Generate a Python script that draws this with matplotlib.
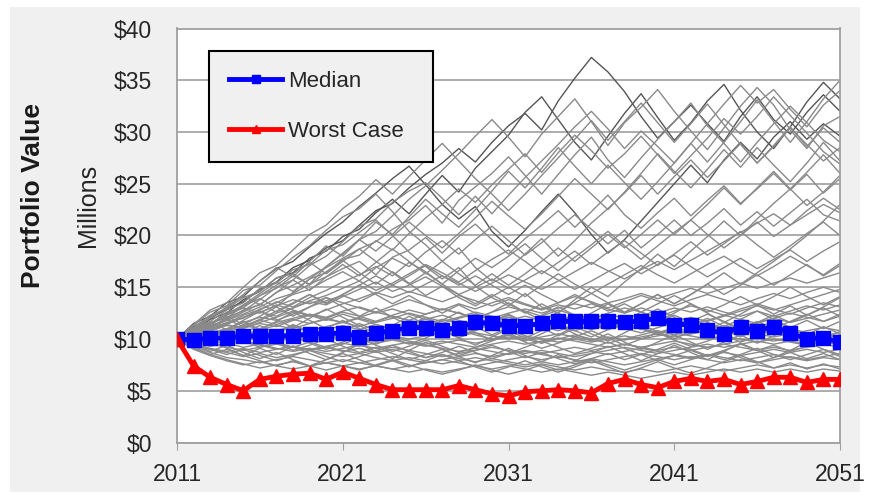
import numpy as np
import matplotlib.pyplot as plt
from matplotlib.patches import Rectangle

plt.rcParams['font.family'] = ['Liberation Sans', 'DejaVu Sans']

years = list(range(2011, 2052))

median = [10.0, 9.9, 10.1, 10.1, 10.3, 10.3, 10.3, 10.3, 10.5, 10.5,
          10.6, 10.2, 10.6, 10.8, 11.1, 11.1, 10.9, 11.1, 11.6, 11.5,
          11.3, 11.3, 11.5, 11.7, 11.7, 11.7, 11.75, 11.6, 11.75, 12.0,
          11.4, 11.4, 10.9, 10.5, 11.2, 10.8, 11.2, 10.6, 10.0, 10.1,
          9.7]

worst_case = [10.0, 7.4, 6.3, 5.6, 5.0, 6.1, 6.4, 6.6, 6.7, 6.1,
              6.8, 6.2, 5.6, 5.1, 5.1, 5.1, 5.1, 5.5, 5.1, 4.7,
              4.5, 4.9, 5.0, 5.1, 5.0, 4.8, 5.7, 6.1, 5.6, 5.3,
              5.9, 6.2, 5.9, 6.1, 5.6, 5.9, 6.3, 6.3, 5.8, 6.1,
              6.1]

# simulated portfolio paths, $M per year
high_paths = [
    [10, 11.2, 12.0, 12.9, 13.6, 14.8, 15.5, 16.9, 17.6, 18.8,
     19.5, 21.0, 22.4, 23.1, 24.6, 25.9, 27.0, 28.4, 27.1, 29.0,
     30.6, 31.8, 30.2, 33.0, 35.2, 37.2, 35.8, 33.9, 31.5, 29.4,
     31.0, 32.6, 30.8, 29.1, 31.5, 33.4, 31.2, 29.8, 31.9, 33.6, 32.0],
    [10, 10.8, 11.9, 12.5, 13.8, 14.6, 15.9, 16.4, 17.8, 18.5,
     19.9, 20.6, 22.2, 23.5, 22.1, 24.0, 25.8, 24.2, 26.5, 28.1,
     29.7, 31.9, 33.4, 31.2, 29.0, 27.3, 29.6, 31.8, 33.7, 31.4,
     29.2, 30.9, 33.0, 34.6, 32.1, 30.0, 28.4, 30.5, 32.9, 34.8, 33.2],
    [10, 11.5, 12.2, 13.5, 14.1, 15.6, 16.8, 17.5, 18.9, 20.2,
     21.3, 22.8, 24.1, 25.5, 26.7, 24.9, 23.0, 21.6, 22.8, 20.4,
     18.9, 20.5, 22.3, 24.0, 22.2, 20.1, 18.3, 19.6, 21.4, 23.2,
     25.0, 26.8, 25.1, 27.3, 29.0, 27.4, 29.5, 31.0, 29.3, 30.8, 29.6],
    [10, 10.6, 11.4, 12.6, 13.0, 14.2, 14.9, 16.1, 15.3, 17.0,
     18.2, 19.6, 20.4, 21.9, 23.5, 24.8, 26.3, 27.9, 29.6, 31.2,
     29.5, 27.6, 29.8, 31.5, 33.2, 31.0, 28.7, 30.9, 32.4, 34.1,
     32.0, 30.1, 28.3, 30.4, 32.5, 34.3, 32.6, 30.2, 28.4, 30.6, 31.5],
    [10, 10.4, 11.1, 11.9, 12.8, 13.3, 14.5, 15.2, 16.0, 16.9,
     17.8, 18.7, 19.4, 20.6, 21.5, 22.9, 21.2, 23.4, 24.7, 26.0,
     27.6, 25.8, 24.0, 25.9, 27.8, 29.5, 27.3, 25.6, 27.5, 29.3,
     31.0, 32.8, 30.6, 28.9, 27.1, 29.0, 30.8, 32.5, 30.9, 29.2, 28.1],
    [10, 10.9, 11.6, 12.0, 13.2, 13.9, 13.1, 14.5, 15.8, 16.4,
     17.7, 18.1, 19.5, 18.6, 20.2, 21.7, 23.0, 24.5, 23.2, 24.9,
     26.4, 27.9, 26.1, 28.0, 29.7, 28.2, 26.5, 27.9, 29.6, 27.8,
     26.0, 27.7, 29.4, 31.3, 29.8, 31.5, 33.4, 31.6, 29.9, 28.1, 26.9],
    [10, 11.3, 12.6, 13.2, 14.7, 15.2, 16.6, 17.9, 19.0, 20.5,
     21.8, 22.6, 24.0, 22.3, 20.4, 19.1, 17.5, 18.8, 16.9, 15.6,
     16.8, 18.2, 19.7, 18.0, 19.5, 21.2, 22.6, 24.1, 25.8, 24.0,
     25.7, 27.3, 25.6, 27.2, 28.9, 27.0, 28.6, 30.4, 28.8, 27.2, 28.5],
    [10, 10.7, 11.0, 12.1, 12.7, 13.8, 15.0, 15.7, 17.1, 18.0,
     19.4, 20.9, 21.6, 23.2, 24.3, 25.1, 23.6, 22.0, 23.8, 22.1,
     23.9, 25.6, 27.2, 28.8, 30.5, 32.0, 30.3, 28.4, 30.1, 28.6,
     27.0, 28.9, 30.8, 32.7, 34.5, 32.8, 34.1, 32.2, 30.5, 32.6, 34.0],
    [10, 11.4, 12.8, 13.5, 15.0, 16.4, 17.1, 18.6, 20.1, 21.0,
     22.6, 23.8, 25.4, 24.0, 25.7, 27.3, 28.9, 27.2, 25.5, 24.0,
     22.4, 24.0, 25.8, 27.5, 29.3, 31.1, 29.2, 31.0, 32.8, 30.9,
     29.0, 30.8, 32.7, 30.7, 28.8, 27.0, 28.7, 30.5, 28.6, 30.4, 29.0],
    [10, 10.9, 12.0, 13.1, 14.3, 15.6, 16.9, 16.0, 17.5, 19.0,
     18.0, 19.6, 21.3, 20.1, 21.8, 23.5, 22.1, 20.8, 22.5, 24.3,
     26.2, 24.6, 26.5, 28.5, 26.7, 25.0, 26.8, 25.1, 23.5, 25.2,
     27.0, 28.9, 27.1, 29.0, 31.0, 33.1, 31.0, 29.0, 31.0, 33.2, 35.0],
    [10, 10.5, 11.5, 12.4, 13.3, 14.4, 15.5, 14.6, 15.8, 17.0,
     18.3, 19.6, 18.5, 19.9, 21.3, 20.0, 18.8, 20.2, 21.7, 23.3,
     21.9, 20.6, 22.1, 23.8, 25.5, 24.0, 22.5, 24.2, 26.0, 27.9,
     26.2, 24.6, 26.4, 28.3, 26.6, 28.5, 26.8, 25.2, 27.0, 29.0, 27.2],
]

mid_paths = [
    [10, 10.5, 11.3, 11.8, 12.4, 13.1, 13.9, 14.4, 15.3, 16.0,
     16.8, 17.5, 16.2, 17.9, 18.6, 19.8, 18.3, 19.9, 21.1, 19.6,
     18.2, 19.7, 21.0, 22.4, 20.8, 22.3, 23.9, 22.0, 20.7, 22.2,
     23.6, 21.9, 23.4, 24.8, 23.1, 24.5, 26.0, 24.4, 25.9, 24.1, 25.5],
    [10, 11.0, 11.7, 12.8, 13.5, 14.9, 15.4, 16.7, 17.2, 18.6,
     19.1, 20.3, 21.5, 20.0, 18.4, 17.0, 15.8, 16.9, 15.1, 14.0,
     13.2, 14.4, 13.1, 12.5, 13.8, 15.0, 14.1, 15.5, 16.8, 18.2,
     17.0, 18.5, 19.9, 21.4, 20.0, 21.6, 23.1, 24.5, 22.9, 24.2, 25.8],
    [10, 10.3, 10.9, 11.6, 12.0, 12.9, 13.5, 14.3, 14.8, 15.7,
     16.5, 15.6, 16.9, 17.8, 17.0, 18.4, 19.5, 18.2, 19.6, 20.9,
     19.5, 18.1, 19.3, 20.7, 22.0, 20.6, 19.2, 20.5, 18.8, 20.1,
     21.5, 20.0, 21.2, 22.6, 21.0, 22.3, 20.9, 22.2, 23.5, 22.0, 21.4],
    [10, 10.6, 11.2, 11.5, 12.3, 12.8, 13.6, 13.1, 14.0, 14.7,
     15.5, 16.2, 17.0, 16.1, 17.4, 16.5, 15.3, 16.6, 17.8, 16.9,
     18.0, 19.2, 17.8, 16.6, 17.9, 19.1, 20.4, 19.0, 17.7, 19.0,
     20.3, 21.5, 20.1, 18.8, 20.0, 21.3, 19.9, 21.0, 22.4, 23.6, 22.5],
    [10, 10.2, 10.8, 11.3, 11.1, 11.8, 12.5, 13.0, 13.7, 14.2,
     14.9, 15.6, 14.7, 15.4, 16.3, 17.2, 16.4, 15.5, 16.6, 17.7,
     18.6, 17.5, 16.3, 17.4, 18.5, 17.2, 18.4, 19.5, 18.3, 17.1,
     18.2, 19.4, 18.1, 19.2, 20.4, 19.1, 17.9, 19.0, 20.2, 21.3, 20.0],
    [10, 10.4, 10.7, 11.4, 12.1, 12.6, 12.2, 13.0, 13.6, 13.3,
     14.1, 14.8, 15.5, 14.6, 15.2, 16.0, 15.1, 14.3, 15.0, 15.8,
     14.9, 15.7, 16.6, 15.7, 14.8, 15.6, 16.5, 17.3, 16.3, 17.2,
     18.1, 17.0, 16.0, 16.9, 17.8, 16.8, 17.7, 18.6, 17.5, 18.5, 19.4],
    [10, 11.1, 12.3, 12.9, 14.0, 14.6, 15.9, 16.3, 15.2, 16.5,
     17.6, 16.4, 15.3, 16.5, 15.4, 14.2, 15.1, 14.0, 13.2, 14.1,
     15.0, 14.1, 15.2, 16.3, 15.3, 14.4, 15.3, 16.2, 17.1, 16.2,
     15.4, 16.3, 17.2, 18.0, 17.0, 16.1, 17.0, 18.0, 17.1, 16.2, 17.3],
    [10, 10.3, 10.6, 11.0, 11.6, 12.1, 11.8, 12.4, 13.1, 13.7,
     14.2, 13.6, 14.4, 15.2, 14.5, 15.3, 16.1, 15.4, 14.6, 15.4,
     16.2, 15.5, 14.8, 15.6, 16.5, 17.4, 16.6, 15.8, 16.7, 17.5,
     16.7, 17.6, 18.5, 19.4, 20.3, 21.2, 22.1, 21.0, 22.0, 23.0, 22.2],
    [10, 11.0, 12.1, 13.0, 14.2, 13.3, 14.5, 15.7, 14.7, 16.0,
     17.2, 16.1, 17.4, 18.7, 17.5, 16.3, 17.5, 16.3, 15.2, 16.3,
     15.2, 16.3, 17.5, 18.8, 17.5, 18.8, 20.1, 18.8, 20.1, 21.5,
     20.1, 21.5, 23.0, 24.6, 23.0, 24.6, 26.2, 24.5, 26.1, 27.8, 26.0],
    [10, 10.6, 11.4, 12.3, 13.2, 14.2, 15.2, 16.3, 17.4, 16.3,
     17.5, 18.7, 17.5, 16.4, 15.3, 16.4, 15.3, 14.3, 13.4, 14.3,
     13.4, 12.5, 13.4, 12.5, 11.7, 12.5, 13.4, 12.5, 13.4, 14.3,
     13.4, 14.3, 15.3, 16.4, 15.3, 16.4, 17.5, 18.7, 20.0, 21.4, 23.0],
    [10, 10.5, 11.2, 11.9, 11.2, 11.9, 12.7, 13.5, 14.3, 13.5,
     14.3, 15.2, 16.1, 15.2, 16.1, 17.1, 16.1, 15.2, 16.1, 15.2,
     14.3, 15.2, 14.3, 13.5, 14.3, 13.5, 12.7, 13.4, 12.6, 13.4,
     14.2, 13.4, 12.6, 13.3, 14.1, 13.3, 14.1, 15.0, 14.1, 13.3, 14.1],
    [10, 10.8, 10.1, 10.9, 11.7, 10.9, 11.7, 12.6, 11.8, 11.0,
     11.8, 11.0, 10.3, 11.0, 11.8, 11.0, 11.8, 12.6, 11.8, 12.6,
     13.5, 12.6, 11.8, 12.6, 13.5, 14.4, 13.5, 12.6, 13.4, 14.3,
     13.4, 14.3, 15.3, 14.3, 15.2, 16.2, 15.2, 16.2, 17.2, 16.1, 17.1],
]

core_paths = [
    [10, 10.1, 10.5, 10.9, 11.3, 11.0, 11.6, 12.0, 12.4, 12.1,
     12.7, 13.1, 12.6, 13.2, 13.8, 13.3, 12.8, 13.4, 12.9, 13.5,
     14.0, 13.4, 12.9, 13.5, 14.1, 13.6, 13.0, 13.6, 14.2, 13.7,
     13.2, 13.8, 14.3, 13.8, 13.3, 13.9, 14.4, 13.9, 14.5, 15.0, 14.5],
    [10, 10.4, 10.2, 10.7, 11.1, 11.5, 11.2, 11.8, 12.3, 12.0,
     11.6, 12.1, 12.6, 12.2, 11.8, 12.4, 12.9, 12.5, 12.0, 12.6,
     13.1, 12.7, 12.2, 12.8, 12.3, 11.9, 12.5, 13.0, 12.6, 12.1,
     12.7, 13.2, 12.8, 12.3, 12.9, 13.4, 12.9, 12.4, 13.0, 13.5, 13.1],
    [10, 9.8, 10.3, 10.6, 10.4, 10.9, 11.3, 11.0, 11.5, 11.9,
     11.6, 11.2, 11.7, 12.2, 11.8, 11.4, 11.9, 11.5, 11.1, 11.6,
     12.1, 11.7, 11.3, 11.8, 11.4, 11.9, 12.4, 12.0, 11.6, 12.1,
     11.7, 11.3, 11.8, 12.3, 11.9, 11.5, 12.0, 12.5, 12.1, 11.7, 12.2],
    [10, 10.6, 11.0, 11.5, 12.1, 12.6, 13.2, 13.8, 13.4, 14.0,
     13.5, 13.0, 12.5, 12.9, 12.4, 11.9, 12.3, 11.8, 11.4, 11.9,
     11.5, 11.1, 11.6, 11.2, 10.8, 11.3, 10.9, 11.4, 11.0, 10.6,
     11.1, 10.7, 11.2, 10.8, 10.4, 10.9, 10.5, 11.0, 10.6, 10.2, 10.7],
    [10, 9.7, 10.0, 10.4, 10.1, 10.5, 10.2, 10.7, 10.4, 10.9,
     11.3, 10.9, 11.4, 11.0, 11.5, 11.9, 11.5, 12.0, 12.4, 12.0,
     12.5, 12.9, 12.5, 13.0, 13.4, 13.0, 13.5, 13.9, 14.4, 13.9,
     14.4, 14.9, 14.4, 14.9, 15.4, 14.9, 15.4, 15.9, 15.4, 15.9, 16.4],
    [10, 10.8, 11.5, 12.3, 13.0, 12.5, 13.3, 12.8, 12.3, 11.8,
     12.4, 11.9, 11.4, 10.9, 11.4, 10.9, 10.5, 10.9, 10.4, 10.0,
     10.4, 10.0, 9.6, 10.0, 10.4, 10.0, 9.6, 10.0, 10.4, 10.8,
     10.4, 10.8, 11.2, 10.8, 11.2, 11.6, 12.0, 11.6, 12.0, 12.4, 12.8],
    [10, 10.3, 10.7, 10.4, 10.0, 10.4, 10.8, 11.2, 10.8, 11.2,
     11.6, 12.0, 11.6, 12.0, 12.5, 12.1, 11.7, 12.1, 12.6, 12.2,
     11.8, 12.2, 11.8, 11.4, 11.8, 11.4, 11.0, 11.4, 11.0, 10.6,
     10.9, 10.5, 10.9, 11.3, 10.9, 10.5, 10.9, 10.5, 10.1, 10.5, 10.1],
    [10, 10.5, 10.9, 11.4, 11.0, 11.6, 12.1, 12.7, 12.2, 12.8,
     13.4, 13.9, 14.5, 14.0, 14.6, 14.1, 13.6, 14.2, 13.7, 13.2,
     13.8, 13.3, 12.8, 13.3, 12.9, 13.4, 12.9, 12.5, 13.0, 12.5,
     13.0, 12.6, 13.1, 12.6, 12.2, 12.7, 12.2, 12.7, 13.2, 12.8, 13.3],
    [10, 9.9, 10.4, 10.8, 11.3, 11.8, 11.4, 11.9, 11.5, 12.0,
     12.6, 12.2, 11.7, 12.3, 12.8, 12.4, 12.9, 12.5, 12.0, 11.6,
     12.1, 11.7, 11.2, 10.8, 11.3, 10.9, 11.4, 11.0, 10.6, 11.1,
     11.6, 12.1, 11.7, 12.2, 12.7, 13.2, 12.8, 13.3, 13.8, 14.3, 14.8],
    [10, 10.9, 10.2, 11.0, 10.4, 9.7, 10.5, 11.3, 10.6, 9.9,
     10.7, 11.5, 10.8, 10.0, 10.8, 11.6, 10.9, 10.1, 9.4, 10.2,
     11.0, 10.3, 9.6, 10.4, 11.2, 10.5, 9.8, 10.6, 11.4, 10.7,
     10.0, 10.8, 11.6, 10.9, 10.2, 11.0, 11.8, 11.1, 10.4, 11.2, 10.5],
    [10, 10.7, 11.6, 10.9, 11.8, 12.7, 11.9, 11.1, 12.0, 12.9,
     12.1, 11.3, 10.5, 11.3, 12.2, 11.4, 10.6, 11.4, 10.6, 9.9,
     10.6, 9.8, 10.5, 11.3, 10.5, 9.8, 10.5, 9.7, 9.0, 9.7,
     10.4, 9.7, 9.0, 9.7, 10.4, 9.6, 10.3, 11.1, 10.3, 9.6, 10.3],
    [10, 10.6, 11.4, 12.2, 11.4, 12.2, 13.1, 12.2, 13.1, 14.0,
     13.1, 12.2, 13.0, 12.1, 11.3, 12.1, 11.3, 10.5, 11.2, 10.4,
     11.1, 11.9, 11.1, 10.3, 11.0, 11.8, 11.0, 11.8, 12.6, 11.7,
     12.5, 13.4, 12.5, 11.6, 12.4, 13.3, 12.4, 13.2, 12.3, 13.1, 14.0],
    [10, 10.4, 11.1, 11.8, 12.6, 13.4, 12.6, 13.4, 14.3, 13.4,
     14.3, 15.2, 14.3, 13.4, 14.2, 13.3, 12.5, 13.3, 12.5, 11.7,
     12.4, 11.6, 12.3, 13.1, 12.3, 11.5, 12.2, 11.4, 12.1, 12.9,
     12.1, 11.3, 12.0, 11.2, 11.9, 12.7, 11.9, 11.1, 11.8, 11.0, 11.7],
    [10, 9.8, 10.5, 9.9, 10.6, 11.3, 10.6, 11.4, 10.7, 10.1,
     10.8, 10.1, 9.5, 10.1, 9.5, 10.1, 10.8, 10.1, 10.8, 11.5,
     10.8, 10.1, 10.8, 11.5, 10.8, 10.2, 10.9, 11.6, 10.9, 11.6,
     12.3, 11.6, 10.9, 11.6, 10.9, 11.6, 12.3, 11.6, 12.3, 13.0, 12.2],
    [10, 10.3, 9.7, 10.3, 10.9, 10.3, 9.7, 9.2, 9.7, 9.2,
     9.7, 10.3, 9.7, 10.3, 10.9, 11.6, 10.9, 10.3, 10.9, 11.6,
     12.3, 11.6, 10.9, 11.6, 12.3, 11.6, 11.0, 11.6, 11.0, 10.4,
     11.0, 11.7, 12.4, 11.7, 11.0, 11.7, 11.0, 11.7, 12.4, 11.7, 12.4],
]

low_paths = [
    [10, 9.4, 9.0, 8.7, 8.3, 8.6, 8.2, 8.5, 8.9, 8.6,
     8.3, 8.6, 8.2, 7.9, 8.2, 7.9, 7.6, 7.9, 8.2, 7.9,
     7.6, 7.3, 7.6, 7.3, 7.0, 7.3, 7.0, 6.8, 7.1, 6.8,
     7.1, 7.4, 7.1, 6.9, 7.2, 7.5, 7.2, 7.5, 7.2, 7.5, 7.3],
    [10, 9.7, 9.3, 9.6, 9.2, 9.5, 9.1, 8.8, 9.1, 8.8,
     9.1, 9.4, 9.1, 9.4, 9.7, 9.4, 9.1, 8.8, 9.1, 8.8,
     8.5, 8.8, 8.5, 8.2, 8.5, 8.8, 8.5, 8.8, 9.1, 8.8,
     8.5, 8.2, 8.5, 8.2, 7.9, 8.2, 8.5, 8.2, 7.9, 8.2, 8.0],
    [10, 10.1, 9.8, 10.1, 9.8, 9.5, 9.8, 10.1, 9.8, 10.1,
     10.4, 10.1, 9.8, 10.1, 9.8, 9.5, 9.8, 9.5, 9.2, 9.5,
     9.8, 9.5, 9.8, 10.1, 9.8, 9.5, 9.2, 9.5, 9.2, 8.9,
     9.2, 8.9, 9.2, 9.5, 9.2, 8.9, 9.2, 8.9, 9.2, 9.5, 9.2],
    [10, 9.2, 8.5, 8.0, 7.6, 7.2, 7.5, 7.8, 7.4, 7.7,
     8.0, 7.7, 8.0, 8.3, 8.0, 7.7, 8.0, 8.3, 8.6, 8.3,
     8.6, 8.9, 8.6, 8.9, 9.2, 8.9, 9.2, 9.5, 9.2, 9.5,
     9.8, 9.5, 9.2, 9.5, 9.8, 10.1, 9.8, 10.1, 10.4, 10.1, 10.4],
    [10, 9.6, 9.9, 9.5, 9.8, 9.4, 9.0, 9.3, 8.9, 9.2,
     8.8, 9.1, 8.7, 9.0, 8.6, 8.2, 8.5, 8.1, 7.8, 8.1,
     7.8, 7.5, 7.8, 7.5, 7.8, 8.1, 7.8, 7.5, 7.8, 8.1,
     8.4, 8.1, 8.4, 8.7, 8.4, 8.7, 9.0, 8.7, 9.0, 8.7, 9.0],
    [10, 10.3, 10.0, 9.7, 10.0, 10.3, 10.6, 10.3, 10.0, 10.3,
     10.0, 9.7, 10.0, 10.3, 10.0, 10.3, 10.6, 10.3, 10.6, 10.3,
     10.0, 10.3, 10.0, 9.7, 10.0, 9.7, 10.0, 10.3, 10.0, 10.3,
     10.6, 10.3, 10.0, 10.3, 10.0, 9.7, 10.0, 9.7, 9.4, 9.7, 9.5],
    [10, 9.0, 8.4, 7.9, 7.5, 7.8, 7.4, 7.1, 7.4, 7.7,
     7.4, 7.1, 7.4, 7.1, 6.8, 7.1, 6.8, 7.1, 7.4, 7.1,
     7.4, 7.1, 6.8, 7.1, 6.8, 6.5, 6.8, 6.5, 6.2, 6.5,
     6.8, 6.5, 6.8, 7.1, 6.8, 7.1, 6.8, 7.1, 6.8, 7.1, 6.9],
    [10, 9.5, 9.1, 8.8, 9.1, 8.7, 9.0, 9.3, 9.0, 9.3,
     9.6, 9.3, 9.6, 9.9, 9.6, 9.3, 9.6, 9.9, 9.6, 9.9,
     10.2, 9.9, 10.2, 10.5, 10.2, 9.9, 10.2, 9.9, 10.2, 10.5,
     10.2, 10.5, 10.8, 10.5, 10.8, 10.5, 10.2, 10.5, 10.8, 11.1, 10.8],
    [10, 9.3, 8.7, 8.2, 8.0, 7.7, 8.0, 8.3, 8.0, 7.7,
     7.4, 7.7, 7.4, 7.1, 7.4, 7.7, 8.0, 7.7, 7.4, 7.7,
     8.0, 8.3, 8.0, 8.3, 8.0, 7.7, 8.0, 8.3, 8.6, 8.3,
     8.0, 8.3, 8.0, 7.7, 8.0, 7.7, 8.0, 8.3, 8.0, 8.3, 8.6],
    [10, 9.8, 9.5, 9.2, 8.9, 9.2, 9.5, 9.2, 8.9, 9.2,
     8.9, 8.6, 8.9, 9.2, 8.9, 8.6, 8.3, 8.6, 8.9, 9.2,
     8.9, 8.6, 8.9, 8.6, 8.3, 8.6, 8.9, 9.2, 8.9, 8.6,
     8.9, 9.2, 9.5, 9.2, 9.5, 9.8, 9.5, 9.8, 9.5, 9.8, 10.1],
    [10, 9.2, 9.9, 9.1, 8.4, 9.1, 8.5, 9.3, 8.6, 8.0,
     8.7, 9.5, 8.8, 8.1, 8.9, 9.7, 9.0, 8.3, 7.7, 8.4,
     9.1, 8.4, 7.8, 8.5, 7.9, 8.6, 9.3, 8.6, 7.9, 8.6,
     9.4, 8.7, 8.0, 8.8, 9.6, 8.9, 8.2, 8.9, 9.7, 9.0, 8.3],
    [10, 9.5, 8.8, 9.4, 8.7, 8.1, 8.7, 8.0, 7.4, 8.0,
     8.6, 8.0, 7.4, 7.9, 7.3, 7.9, 8.5, 7.9, 7.3, 6.8,
     7.3, 7.9, 7.3, 6.8, 7.3, 7.9, 7.3, 6.7, 7.2, 7.8,
     7.2, 6.7, 7.2, 7.8, 8.4, 7.8, 7.2, 7.7, 7.1, 7.6, 7.1],
    [10, 9.4, 9.9, 10.5, 9.8, 9.2, 9.7, 10.3, 9.6, 9.0,
     9.5, 10.1, 9.4, 8.8, 9.3, 9.9, 9.3, 8.7, 9.2, 9.8,
     10.4, 9.7, 9.1, 9.6, 10.2, 10.8, 10.1, 9.4, 10.0, 10.6,
     9.9, 9.3, 9.8, 10.4, 9.7, 10.3, 10.9, 10.2, 9.5, 10.1, 10.7],
    [10, 9.6, 9.0, 8.5, 9.0, 8.4, 7.9, 8.4, 8.9, 8.3,
     7.8, 8.3, 8.8, 9.4, 8.8, 8.2, 8.7, 9.3, 8.7, 8.1,
     8.6, 9.2, 9.8, 9.2, 8.6, 9.1, 9.7, 9.1, 8.5, 9.0,
     9.6, 9.0, 8.4, 8.9, 9.5, 8.9, 9.4, 8.8, 9.3, 9.9, 9.3],
    [10, 9.3, 9.8, 10.4, 9.7, 10.3, 9.6, 8.9, 9.4, 10.0,
     9.3, 8.7, 9.2, 8.6, 8.0, 8.5, 9.0, 8.4, 8.9, 9.4,
     8.8, 8.2, 8.7, 8.1, 7.6, 8.1, 8.6, 8.0, 8.5, 7.9,
     8.4, 8.9, 8.3, 8.8, 8.2, 7.7, 8.2, 8.7, 8.1, 8.6, 8.0],
    [10, 9.1, 8.5, 9.0, 8.4, 7.9, 7.4, 7.9, 7.4, 7.0,
     7.4, 7.0, 7.5, 8.0, 7.5, 7.0, 6.6, 7.0, 7.5, 7.0,
     6.6, 7.0, 7.5, 7.0, 7.5, 8.0, 7.5, 7.0, 7.5, 8.0,
     7.5, 8.0, 8.5, 8.0, 8.5, 9.1, 8.5, 8.0, 8.5, 9.0, 8.5],
]

y_ticks = [0, 5, 10, 15, 20, 25, 30, 35, 40]
x_ticks = [2011, 2021, 2031, 2041, 2051]

fig = plt.figure(figsize=(8.7, 4.99), dpi=100, facecolor='white')
fig.patches.append(Rectangle((10 / 870, 7 / 499), 850 / 870, 485 / 499,
                             transform=fig.transFigure, facecolor='#f0f0f0',
                             edgecolor='none', zorder=-1))
ax = fig.add_axes([177 / 870, 1 - 442.5 / 499, 663 / 870, 414 / 499])
ax.set_facecolor('white')

for p in high_paths[:3]:
    ax.plot(years, p, color='#555555', lw=1.0, zorder=2)
for p in high_paths[3:] + mid_paths + core_paths + low_paths:
    ax.plot(years, p, color='#8a8a8a', lw=1.0, zorder=2)

ax.plot(years, median, color='#0000ff', lw=3.5, marker='s', ms=10,
        label='Median', zorder=4)
ax.plot(years, worst_case, color='#ff0000', lw=3.5, marker='^', ms=10,
        label='Worst Case', zorder=4)

ax.set_xlim(2011, 2051)
ax.set_ylim(0, 40)
ax.set_xticks(x_ticks)
ax.set_yticks(y_ticks)
ax.set_yticklabels(['$%d' % v for v in y_ticks])
ax.yaxis.grid(True, color='#a6a6a6', lw=1.3)
ax.set_axisbelow(True)
for s in ax.spines.values():
    s.set_color('#a0a0a0')
    s.set_linewidth(1.3)
ax.tick_params(axis='x', direction='out', length=5, color='#a0a0a0',
               labelsize=16.5, labelcolor='#262626', pad=10)
ax.tick_params(axis='y', length=0, labelsize=16.5, labelcolor='#262626', pad=18)

fig.text(33 / 870, 1 - 196 / 499, 'Portfolio Value', rotation=90,
         fontsize=19, fontweight='bold', ha='center', va='center', color='#1a1a1a')
fig.text(88 / 870, 1 - 205 / 499, 'Millions', rotation=90,
         fontsize=18, ha='center', va='center', color='#262626')

leg_x0 = (209 - 177) / 663
leg_w = (433 - 209) / 663
leg_top = 1 - (51 - 28.5) / 414
leg = ax.legend(loc='upper left', bbox_to_anchor=(leg_x0, 0, leg_w, leg_top),
                mode='expand', frameon=True, fancybox=False, fontsize=16,
                handlelength=2.4, handletextpad=0.25, labelspacing=1.3,
                borderpad=0.9, borderaxespad=0, markerscale=0.6)
for t in leg.get_texts():
    t.set_color('#262626')
leg.get_frame().set_edgecolor('black')
leg.get_frame().set_linewidth(1.5)
leg.get_frame().set_facecolor('#f0f0f0')
leg.get_frame().set_alpha(1)

fig.savefig('out.png', dpi=100, facecolor=fig.get_facecolor())
